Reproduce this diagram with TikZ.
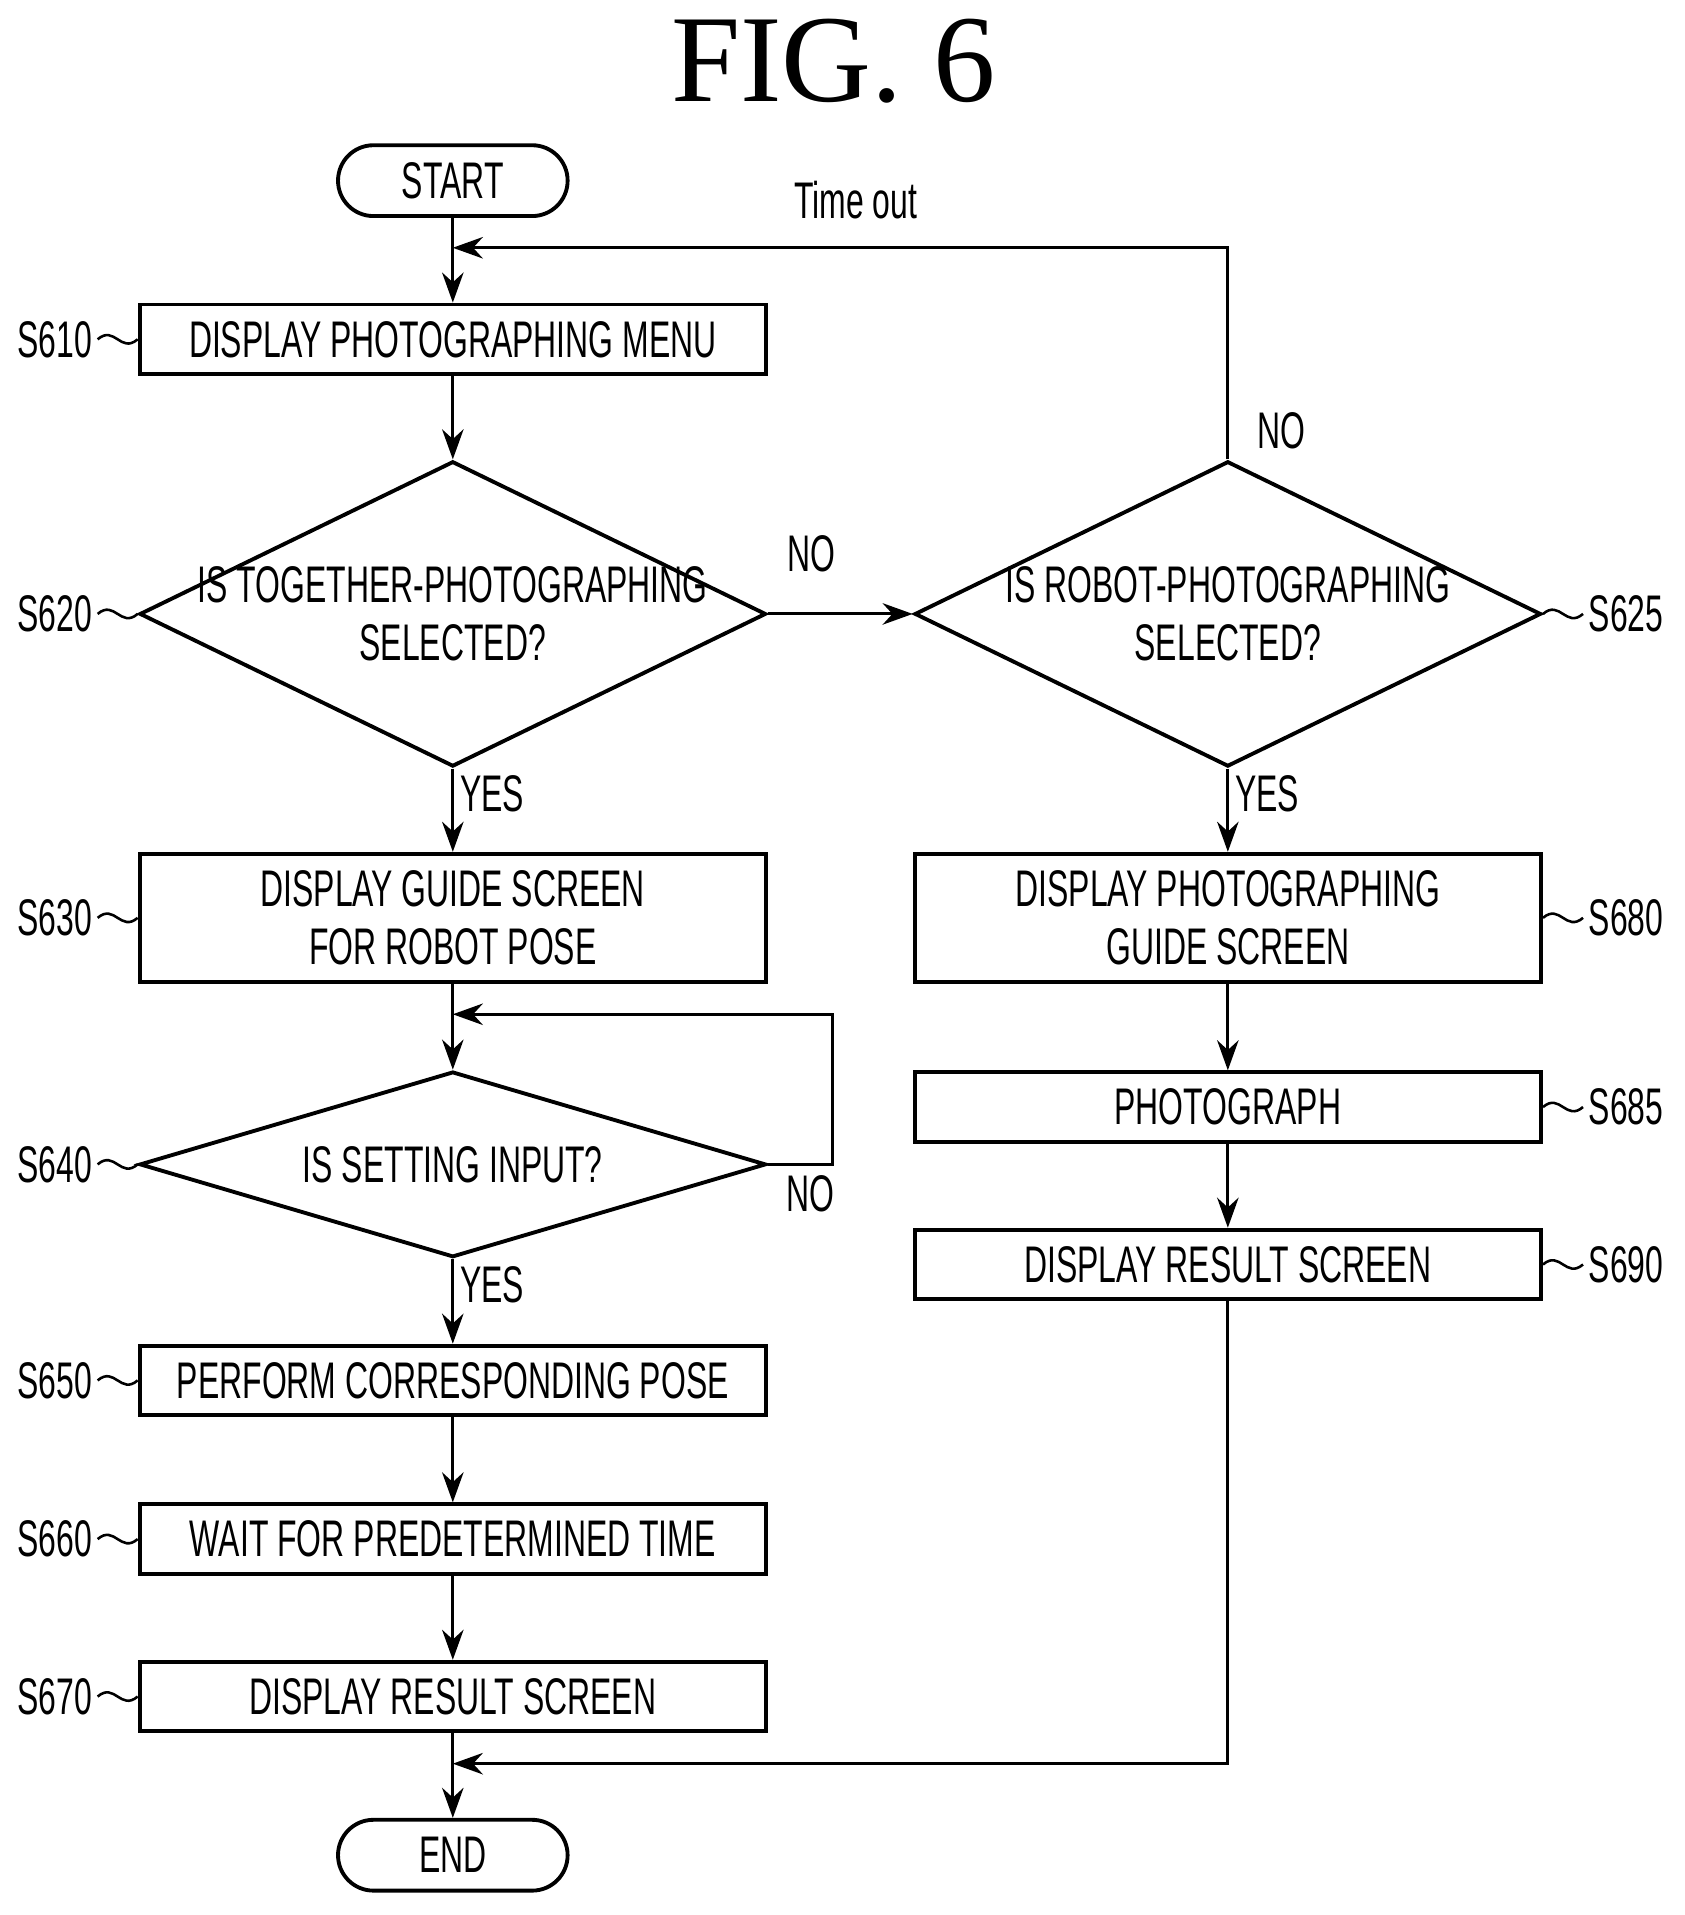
\documentclass[tikz,border=0pt]{standalone}
\usepackage{fontspec}
\setmainfont{Liberation Sans}[FakeStretch=0.62]
\newfontfamily\titlefont{Liberation Serif}
\usetikzlibrary{shapes.geometric,arrows.meta,calc}
\begin{document}
\begin{tikzpicture}[x=0.01cm,y=-0.01cm,font=\fontsize{12pt}{13.6pt}\selectfont,>={Stealth[length=7pt,width=5pt]}]
    \tikzstyle{stepbox}=[draw,line width=0.9pt,minimum width=5.13cm,minimum height=0.57cm,align=center,inner sep=0pt]
    \tikzstyle{term}=[draw,line width=0.9pt,rounded corners=0.29cm,minimum width=1.88cm,minimum height=0.58cm]
    \tikzstyle{decision}=[draw,line width=0.9pt,diamond,minimum width=5.13cm,minimum height=2.5cm,inner sep=0pt]
    \tikzstyle{flow}=[->,line width=0.7pt]
    \tikzstyle{tag}=[anchor=east,inner sep=0pt]
    \tikzstyle{tagr}=[anchor=west,inner sep=0pt]
    \useasboundingbox (0,0) rectangle (1380,1569);

    \node[font=\titlefont\fontsize{29pt}{29pt}\selectfont] (title) at (683,50) {FIG. 6};

    \node[term] (start) at (371,148) {START};
    \node[stepbox] (s610) at (371,278) {DISPLAY PHOTOGRAPHING MENU};
    \node[decision] (s620) at (371,503) {};
    \node[align=center] at (s620) {IS TOGETHER-PHOTOGRAPHING\\SELECTED?};
    \node[decision] (s625) at (1006,503) {};
    \node[align=center] at (s625) {IS ROBOT-PHOTOGRAPHING\\SELECTED?};
    \node[stepbox,minimum height=1.05cm] (s630) at (371,752) {DISPLAY GUIDE SCREEN\\FOR ROBOT POSE};
    \node[decision,minimum height=1.52cm] (s640) at (371,954) {};
    \node at (s640) {IS SETTING INPUT?};
    \node[stepbox] (s650) at (371,1131) {PERFORM CORRESPONDING POSE};
    \node[stepbox] (s660) at (371,1261) {WAIT FOR PREDETERMINED TIME};
    \node[stepbox] (s670) at (371,1390) {DISPLAY RESULT SCREEN};
    \node[term] (end) at (371,1520) {END};
    \node[stepbox,minimum height=1.05cm] (s680) at (1006,752) {DISPLAY PHOTOGRAPHING\\GUIDE SCREEN};
    \node[stepbox] (s685) at (1006,907) {PHOTOGRAPH};
    \node[stepbox] (s690) at (1006,1036) {DISPLAY RESULT SCREEN};

    \coordinate (timeout) at (371,203);
    \coordinate (loop) at (371,831);
    \coordinate (join) at (371,1445);

    % main line
    \draw[flow] (start) -- (s610);
    \draw[flow] (s610) -- (s620);
    \draw[flow] (s620) -- node[pos=0.3,right=-2pt] {YES} (s630);
    \draw[flow] (s630) -- (s640);
    \draw[flow] (s640) -- node[pos=0.3,right=-2pt] {YES} (s650);
    \draw[flow] (s650) -- (s660);
    \draw[flow] (s660) -- (s670);
    \draw[flow] (s670) -- (end);
    \draw[flow] (s620.east) -- node[pos=0.3,above=6pt] {NO} (s625.west);
    \draw[flow] (s625) -- node[pos=0.3,right=-2pt] {YES} (s680);
    \draw[flow] (s680) -- (s685);
    \draw[flow] (s685) -- (s690);

    % loops
    \draw[flow] (s625.north) -- (1006,203) -- node[pos=0.48,above=3pt] {Time out} (timeout);
    \node at (1050,353) {NO};
    \draw[flow] (s640.east) -- (682,954) -- (682,831) -- (loop);
    \node at (664,978) {NO};
    \draw[flow] (s690) -- (1006,1445) -- (join);

    % step numbers
    \foreach \n/\y in {s610/278,s620/503,s630/752,s640/954,s650/1131,s660/1261,s670/1390} {
        \node[tag] (t\n) at (76,\y) {\MakeUppercase{\n}};
        \draw[line width=0.6pt] ($(t\n.east)+(4,0)$) .. controls +(14,-12) and +(-14,12) .. (\n.west);
    }
    \foreach \n/\y in {s625/503,s680/752,s685/907,s690/1036} {
        \node[tagr] (t\n) at (1301,\y) {\MakeUppercase{\n}};
        \draw[line width=0.6pt] (\n.east) .. controls +(14,-12) and +(-14,12) .. ($(t\n.west)+(-4,0)$);
    }
\end{tikzpicture}
\end{document}
